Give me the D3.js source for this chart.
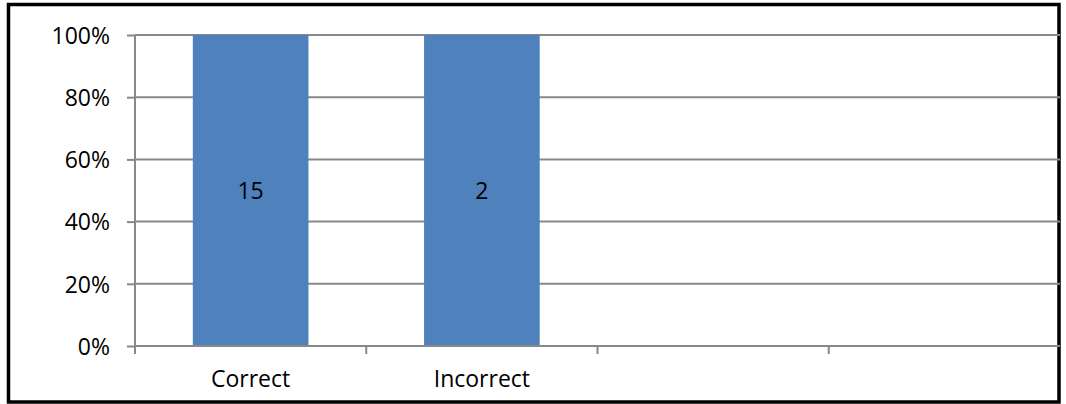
<!DOCTYPE html>
<html>
<head>
<meta charset="utf-8">
<script src="https://cdn.jsdelivr.net/npm/d3@7"></script>
<style>
  html, body { margin: 0; padding: 0; background: #fff; }
  svg { display: block; }
  text { font-family: "Open Sans", "Liberation Sans", sans-serif; fill: #000; }
</style>
</head>
<body>
<svg id="chart" width="1066" height="404"></svg>
<script>
// Category slots on the x axis (the last two are empty)
const categories = ["Correct", "Incorrect", "", ""];
// Number of answers in each category (single series, shown as 100% stacked)
const answerCounts = [15, 2, null, null];
// Percentage ticks on the y axis
const yTicks = [0, 0.2, 0.4, 0.6, 0.8, 1.0];

const plot = { left: 135, right: 1060, top: 35, bottom: 346 };
const gridColor = "#888888";
const barColor = "#4F81BD";
const fontSize = 23;

const svg = d3.select("#chart");

// Outer frame
svg.append("rect")
  .attr("x", 8.5).attr("y", 4.5)
  .attr("width", 1050.5).attr("height", 397.5)
  .attr("fill", "#fff")
  .attr("stroke", "#000")
  .attr("stroke-width", 3.5);

const slotKeys = categories.map((c, i) => i);
const x = d3.scaleBand()
  .domain(slotKeys)
  .range([plot.left, plot.right])
  .paddingInner(0.5)
  .paddingOuter(0.25);

const y = d3.scaleLinear()
  .domain([0, 1])
  .range([plot.bottom, plot.top]);

// One-series table, stacked to 100% per category
const table = slotKeys.map(i => ({ slot: i, count: answerCounts[i] }))
  .filter(d => d.count != null);
const stacked = d3.stack()
  .keys(["count"])
  .offset(d3.stackOffsetExpand)(table);

// Horizontal gridlines
svg.append("g")
  .selectAll("line")
  .data(yTicks.filter(t => t > 0))
  .join("line")
  .attr("x1", plot.left).attr("x2", plot.right)
  .attr("y1", d => y(d)).attr("y2", d => y(d))
  .attr("stroke", gridColor)
  .attr("stroke-width", 2);

// Y axis
const yAxis = d3.axisLeft(y)
  .tickValues(yTicks)
  .tickFormat(d3.format(".0%"))
  .tickSize(8)
  .tickPadding(17);
const gy = svg.append("g")
  .attr("transform", `translate(${plot.left},0)`)
  .call(yAxis);
gy.select(".domain").attr("stroke", gridColor).attr("stroke-width", 2)
  .attr("d", `M0,${plot.top}V${plot.bottom}`);
gy.selectAll(".tick line").attr("stroke", gridColor).attr("stroke-width", 2);
gy.selectAll(".tick text")
  .attr("font-size", fontSize)
  .attr("font-family", "'Open Sans', sans-serif")
  .attr("fill", "#000")
  .attr("dy", "0.36em");

// Bars
const series = svg.append("g").selectAll("g")
  .data(stacked)
  .join("g")
  .attr("fill", barColor);

series.selectAll("rect")
  .data(s => s)
  .join("rect")
  .attr("x", d => x(d.data.slot))
  .attr("width", x.bandwidth())
  .attr("y", d => y(d[1]))
  .attr("height", d => y(d[0]) - y(d[1]));

// Count labels centred in each bar
series.selectAll("text")
  .data(s => s)
  .join("text")
  .attr("x", d => x(d.data.slot) + x.bandwidth() / 2)
  .attr("y", d => y((d[0] + d[1]) / 2))
  .attr("dy", "0.36em")
  .attr("text-anchor", "middle")
  .attr("font-size", fontSize)
  .text(d => d.data.count);

// X axis baseline and category boundary ticks
const gx = svg.append("g");
gx.append("line")
  .attr("x1", plot.left).attr("x2", plot.right)
  .attr("y1", plot.bottom).attr("y2", plot.bottom)
  .attr("stroke", gridColor).attr("stroke-width", 2);
const boundaries = slotKeys.map(i => plot.left + i * x.step());
gx.selectAll("line.boundary")
  .data(boundaries)
  .join("line")
  .attr("class", "boundary")
  .attr("x1", d => d).attr("x2", d => d)
  .attr("y1", plot.bottom).attr("y2", plot.bottom + 8)
  .attr("stroke", gridColor).attr("stroke-width", 2);

// Category labels
gx.selectAll("text")
  .data(slotKeys)
  .join("text")
  .attr("x", i => x(i) + x.bandwidth() / 2)
  .attr("y", 387)
  .attr("text-anchor", "middle")
  .attr("font-size", fontSize)
  .text(i => categories[i]);
</script>
</body>
</html>
